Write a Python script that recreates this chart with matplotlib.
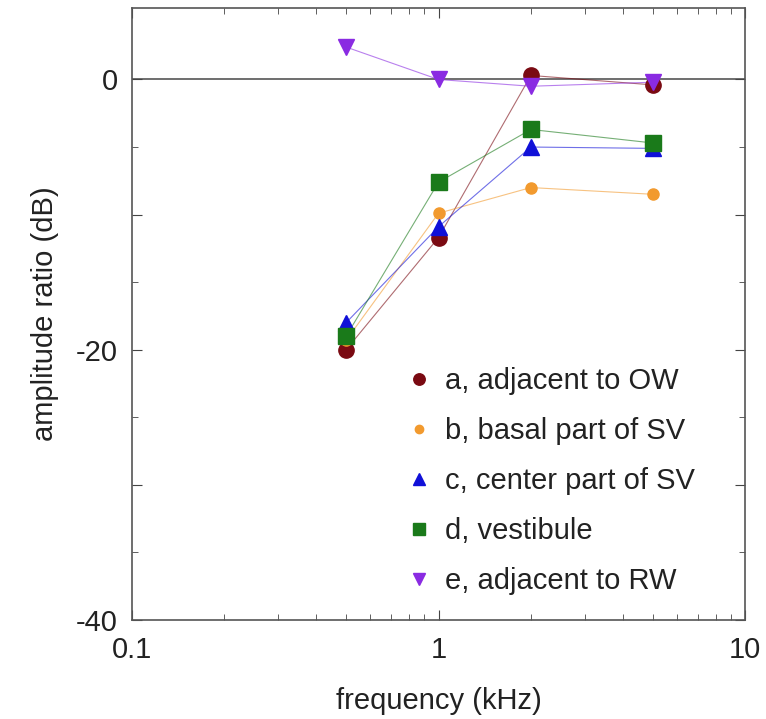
import numpy as np
import matplotlib
matplotlib.use("Agg")
import matplotlib.pyplot as plt

plt.rcParams['font.family'] = ['Liberation Sans', 'DejaVu Sans']

freq = [0.5, 1, 2, 5]  # kHz
labels = ["a, adjacent to OW", "b, basal part of SV", "c, center part of SV",
          "d, vestibule", "e, adjacent to RW"]
amp_a = [-20.0, -11.7, 0.3, -0.4]
amp_b = [-19.3, -9.9, -8.0, -8.5]
amp_c = [-18.0, -10.9, -5.0, -5.1]
amp_d = [-19.0, -7.6, -3.7, -4.7]
amp_e = [2.4, 0.0, -0.5, -0.2]

series = [amp_a, amp_b, amp_c, amp_d, amp_e]
colors = ["#7a0a12", "#f29a2e", "#1010d8", "#1a7a1a", "#8a2be2"]
markers = ["o", "o", "^", "s", "v"]
msizes = [11, 8, 11, 11, 11]

fig = plt.figure(figsize=(7.66, 7.19), dpi=100)
ax = fig.add_axes([0.172, 0.138, 0.801, 0.851])

ax.axhline(0, color="#555555", lw=1.2, zorder=1)

for vals, c, m, ms, lab in zip(series, colors, markers, msizes, labels):
    ax.plot(freq, vals, color=c, lw=0.8, alpha=0.6, zorder=2)
    ax.plot(freq, vals, ls="none", marker=m, ms=ms, color=c, mec=c,
            label=lab, zorder=3)

ax.set_xscale("log")
ax.set_xlim(0.1, 10)
ax.set_ylim(-40, 5.3)
ax.set_yticks([-40, -30, -20, -10, 0])
ax.set_yticklabels(["-40", "", "-20", "", "0"])
ax.set_yticks([-35, -25, -15, -5], minor=True)
ax.set_xticks([0.1, 1, 10])
ax.set_xticklabels(["0.1", "1", "10"])

ax.tick_params(which="both", direction="in", top=True, right=True,
               labelsize=21, colors="#444444", labelcolor="#222222")
ax.tick_params(axis="x", pad=12)
ax.tick_params(axis="y", pad=10)
ax.tick_params(which="major", length=7)
ax.tick_params(which="minor", length=4)
for s in ax.spines.values():
    s.set_color("#555555")
    s.set_linewidth(1.2)

ax.set_xlabel("frequency (kHz)", fontsize=21, color="#222222", labelpad=16)
ax.set_ylabel("amplitude ratio (dB)", fontsize=21, color="#222222", labelpad=12)

leg = ax.legend(loc="lower right", frameon=False, fontsize=21,
                handletextpad=0.4, labelspacing=0.75, handlelength=1.0,
                markerscale=0.75, borderaxespad=0.2,
                bbox_to_anchor=(0.947, 0.012))
for t in leg.get_texts():
    t.set_color("#222222")

fig.savefig("out.png", dpi=100)
